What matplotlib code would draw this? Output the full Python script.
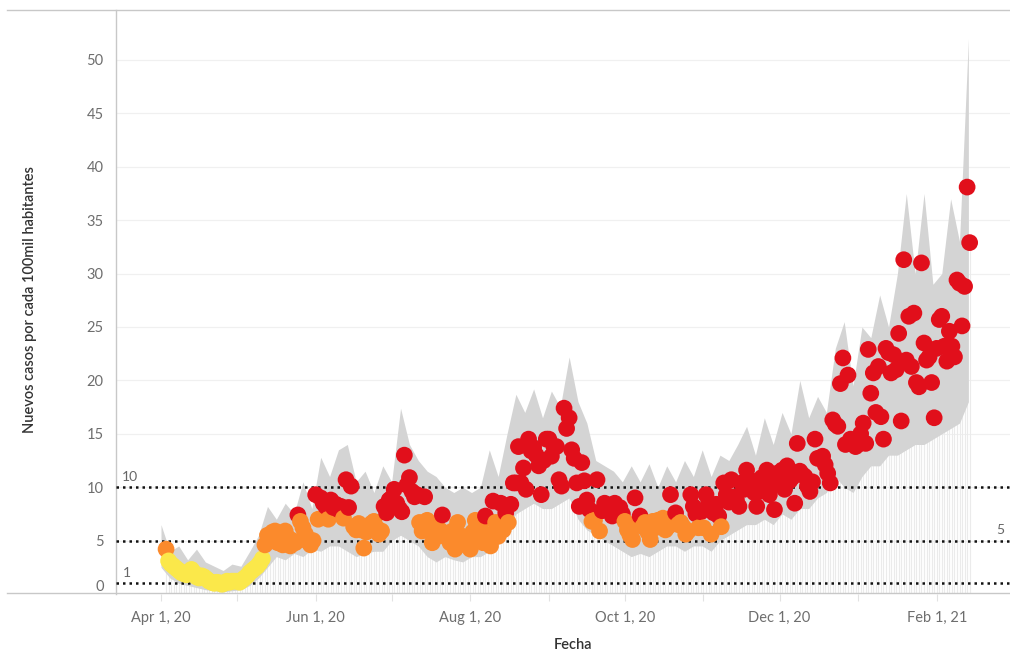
import numpy as np
import pandas as pd
import matplotlib
matplotlib.use("Agg")
import matplotlib.pyplot as plt
from matplotlib.lines import Line2D

# =============================
# Datos
# =============================
# casos diarios por 100mil hab., un punto por día desde 2020-04-03
apr = [4.2, 3.1, 2.8, 2.6, 2.4, 2.2, 2.0, 1.9, 1.8, 2.1, 2.3, 2.0, 1.6, 1.5,
       1.7, 1.6, 1.4, 1.2, 1.1, 1.0, 1.1, 1.05, 0.9, 1.0, 1.2, 1.1, 1.2, 1.2]
may = [1.2, 1.1, 1.3, 1.5, 1.7, 2.0, 2.2, 2.4, 2.6, 2.9, 3.3, 4.6, 5.5, 5.0,
       5.8, 5.9, 4.8, 5.4, 4.6, 5.9, 5.3, 4.5, 5.0, 4.8, 7.4, 6.8, 6.2, 5.6,
       4.9, 4.6, 5.0]
jun = [9.3, 7.0, 9.0, 8.5, 8.2, 7.0, 8.8, 8.1, 8.4, 7.9, 8.2, 7.1, 10.7, 8.1,
       10.1, 6.3, 6.0, 6.6, 6.0, 4.3, 5.8, 6.3, 6.6, 6.8, 6.2, 5.6, 5.9, 8.2,
       7.6, 8.8]
jul = [9.0, 9.8, 8.5, 8.0, 7.7, 13.0, 10.2, 10.9, 9.6, 9.1, 9.3, 6.7, 5.9, 9.1,
       6.9, 6.2, 4.8, 6.4, 5.4, 6.0, 7.4, 5.4, 5.7, 4.8, 5.9, 4.2, 6.7, 5.2,
       5.4, 4.6, 5.1]
aug = [4.2, 5.8, 6.9, 5.0, 6.3, 4.8, 7.3, 5.5, 4.5, 8.7, 6.7, 5.4, 8.5, 6.0,
       7.6, 6.7, 8.4, 10.4, 10.4, 13.8, 10.4, 11.8, 9.8, 14.5, 13.4, 13.7,
       13.0, 12.0, 9.3, 12.5, 14.5]
sep = [14.5, 12.9, 13.8, 13.8, 10.7, 10.1, 17.4, 15.5, 16.5, 13.5, 12.7, 10.4,
       8.2, 12.3, 10.6, 8.8, 7.9, 6.8, 6.9, 10.7, 5.9, 7.8, 8.5, 7.9, 8.0, 7.3,
       8.5, 7.8, 8.1, 7.5]
oct_ = [6.8, 6.0, 5.5, 5.1, 9.0, 6.5, 7.3, 6.3, 6.7, 5.8, 5.1, 6.8, 6.2, 6.9,
        6.5, 7.1, 6.0, 6.3, 9.3, 6.6, 7.6, 6.5, 6.7, 6.3, 5.6, 5.9, 9.3, 8.2,
        7.5, 6.2, 7.7]
nov = [6.2, 9.3, 8.5, 5.6, 7.6, 8.4, 7.3, 6.3, 10.4, 9.3, 8.6, 10.7, 9.1, 8.8,
       8.2, 10.4, 9.8, 11.6, 10.0, 10.6, 9.5, 8.2, 9.6, 10.9, 11.0, 11.6, 9.3,
       10.2, 7.9, 11.3]
dec = [10.5, 11.6, 9.8, 12.0, 10.6, 10.9, 8.5, 14.1, 11.5, 11.2, 11.0, 10.1,
       9.6, 10.5, 14.5, 12.7, 12.7, 12.9, 12.1, 11.3, 10.4, 16.3, 15.9, 15.7,
       19.7, 22.1, 14.0, 20.5, 14.5, 14.2, 13.8]
jan = [14.0, 15.0, 16.0, 14.1, 22.9, 18.8, 20.7, 17.0, 21.3, 16.6, 14.5, 23.0,
       22.6, 20.7, 22.4, 21.0, 24.4, 16.2, 31.3, 21.9, 26.0, 21.3, 26.3, 19.8,
       19.4, 31.0, 23.5, 21.9, 22.2, 19.8, 16.5]
feb = [23.0, 25.7, 26.0, 23.2, 21.8, 24.6, 23.2, 22.2, 29.4, 29.1, 25.1, 28.8,
       38.1, 32.9]

# banda gris (rango diario), un punto cada 3.5 días desde 2020-04-01
band_hi = [6.5, 4.0, 4.5, 3.2, 4.2, 3.0, 2.6, 2.2, 2.8, 2.6,
           4.0, 5.5, 8.2, 7.0, 8.5, 7.5, 10.5, 8.0, 12.8, 11.0,
           13.5, 14.0, 10.5, 11.5, 9.5, 12.0, 10.5, 17.4, 14.0, 12.5,
           11.5, 11.0, 10.0, 9.5, 10.0, 9.5, 10.0, 13.5, 11.0, 15.0,
           18.7, 17.0, 19.2, 16.5, 19.0, 17.5, 22.2, 18.0, 16.0, 12.5,
           12.0, 11.5, 10.5, 12.0, 10.5, 12.2, 10.0, 12.0, 10.5, 12.5,
           11.0, 13.5, 11.0, 13.0, 12.5, 14.0, 15.7, 13.0, 16.5, 14.0,
           17.0, 15.0, 20.0, 16.5, 18.5, 17.0, 23.0, 25.5, 19.5, 25.0,
           24.0, 28.0, 25.0, 30.0, 37.5, 30.0, 37.5, 29.0, 30.0, 37.0,
           33.0, 52.0]
band_lo = [2.5, 1.5, 1.0, 0.8, 0.6, 0.4, 0.3, 0.2, 0.3, 0.4,
           0.8, 1.5, 2.5, 3.5, 3.2, 3.8, 3.5, 4.2, 4.0, 4.5,
           4.5, 4.0, 3.5, 3.8, 4.0, 4.0, 5.0, 5.5, 5.0, 4.5,
           3.5, 3.0, 3.5, 3.2, 3.0, 3.5, 3.5, 4.0, 5.0, 6.0,
           7.5, 8.0, 8.5, 8.0, 8.0, 8.5, 9.0, 7.0, 6.0, 5.5,
           5.0, 4.5, 4.0, 3.5, 3.8, 3.5, 4.0, 4.5, 4.5, 4.0,
           4.5, 4.5, 4.0, 5.0, 5.5, 6.0, 6.5, 6.5, 7.0, 6.5,
           7.5, 7.0, 8.0, 8.0, 9.0, 9.5, 11.0, 10.0, 9.5, 11.0,
           12.0, 12.0, 13.0, 13.0, 13.5, 14.0, 14.0, 14.5, 15.0, 15.5,
           16.0, 18.0]

thresholds = [1, 5, 10]
y_ticks = [0, 5, 10, 15, 20, 25, 30, 35, 40, 45, 50]

dot_values = np.array(apr + may + jun + jul + aug + sep + oct_ + nov + dec + jan + feb)
dot_dates = pd.date_range("2020-04-03", periods=len(dot_values), freq="D")
band_dates = pd.date_range("2020-04-01", periods=len(band_hi), freq="84h")

# =============================
# Colores por nivel
# =============================
YELLOW, ORANGE, RED = "#fbe84a", "#fb8a2c", "#e10f1b"
colors = np.where(dot_values < 3.8, YELLOW, np.where(dot_values < 7.15, ORANGE, RED))

plt.rcParams["font.family"] = ["Lato", "DejaVu Sans"]

fig = plt.figure(figsize=(10.10, 6.57), dpi=100)
ax = fig.add_axes([116 / 1010, 63 / 657, 894 / 1010, 584 / 657])

# barras finas de fondo + banda gris
ax.vlines(dot_dates, 0, dot_values, color="#ebebeb", lw=0.8, zorder=1)
ax.fill_between(band_dates, band_lo, band_hi, color="#d4d4d4", lw=0, zorder=2)

# líneas de umbral punteadas
for t in thresholds:
    ax.axhline(t, color="#111111", lw=1.8, ls=(0, (1, 1.6)), zorder=3)

ax.scatter(dot_dates, dot_values, s=145, c=colors, lw=0, zorder=4)

# etiquetas de umbral
ax.annotate("10", xy=(0, 10), xycoords=("axes fraction", "data"), xytext=(4, 3),
            textcoords="offset points", fontsize=10, color="#666666", va="bottom")
ax.annotate("1", xy=(0, 1), xycoords=("axes fraction", "data"), xytext=(5, 3),
            textcoords="offset points", fontsize=10, color="#666666", va="bottom")
ax.annotate("5", xy=(1, 5), xycoords=("axes fraction", "data"), xytext=(-10, 3),
            textcoords="offset points", fontsize=10, color="#666666", va="bottom",
            annotation_clip=False)

# =============================
# Ejes
# =============================
ax.set_ylim(0, 54.68)
ax.set_xlim(pd.Timestamp("2020-03-14 06:00"), pd.Timestamp("2021-03-01 22:00"))

ax.set_yticks(y_ticks)
ax.set_yticklabels([str(v) for v in y_ticks])
ax.tick_params(axis="y", length=0, pad=9, labelsize=10.5, labelcolor="#6e6e6e")
ax.get_yticklabels()[0].set_verticalalignment("bottom")
ax.yaxis.grid(True, color="#f0f0f0", lw=0.9)
ax.set_axisbelow(True)

month_ticks = pd.date_range("2020-04-01", "2021-02-01", freq="MS")
ax.set_xticks(month_ticks)
ax.set_xticklabels([d.strftime("%b 1, %y") if i % 2 == 0 else ""
                    for i, d in enumerate(month_ticks)])
ax.tick_params(axis="x", length=5, width=0.8, color="#e2e2e2", pad=7,
               labelsize=10.5, labelcolor="#6e6e6e")

for side in ["top", "right", "bottom"]:
    ax.spines[side].set_visible(False)
ax.spines["left"].set_color("#c8c8c8")
ax.spines["left"].set_linewidth(1.0)

# bordes del panel que salen de los ejes
fig.add_artist(Line2D([7 / 1010, 1], [1 - 593 / 657] * 2, color="#c8c8c8", lw=1.0))
fig.add_artist(Line2D([7 / 1010, 1], [1 - 10 / 657] * 2, color="#c8c8c8", lw=1.0))

fig.text(30 / 1010, 1 - 300 / 657, "Nuevos casos por cada 100mil habitantes",
         rotation=90, ha="center", va="center", fontsize=10.5, color="#333333",
         fontweight="semibold")
fig.text(573 / 1010, 1 - 645 / 657, "Fecha", ha="center", va="center",
         fontsize=10.5, color="#333333", fontweight="semibold")

fig.savefig("out.png", dpi=100)
